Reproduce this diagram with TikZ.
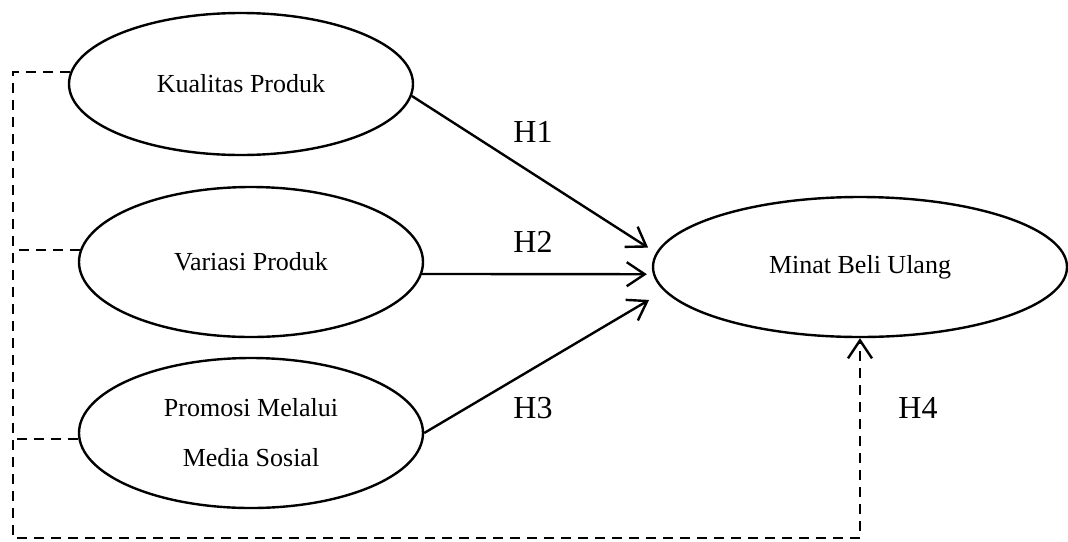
\documentclass[tikz,border=0pt]{standalone}
\usepackage{fontspec}
\setmainfont{Liberation Serif}
\usetikzlibrary{arrows.meta,shapes.geometric}
\begin{document}
\begin{tikzpicture}[x=0.5pt,y=-0.5pt,
  varbox/.style={draw,ellipse,line width=1.2pt,inner sep=0pt,font=\fontsize{13}{25}\selectfont,align=center},
  tip/.style={-{Straight Barb[length=9pt,width=12pt,line width=1.2pt]}},
  solidarrow/.style={line width=1.2pt,tip},
  dashline/.style={line width=1.3pt,dash pattern=on 5pt off 3.5pt},
  hlabel/.style={font=\fontsize{16}{19}\selectfont}]
\useasboundingbox (0,0) rectangle (1068,541);
\node[varbox,minimum width=172pt,minimum height=71pt] (e1) at (241,84) {Kualitas Produk};
\node[varbox,minimum width=172pt,minimum height=75pt] (e2) at (251,262) {Variasi Produk};
\node[varbox,minimum width=172pt,minimum height=75pt] (e3) at (251,433) {Promosi Melalui\\Media Sosial};
\node[varbox,minimum width=207pt,minimum height=70pt] (e4) at (860,267) {Minat Beli Ulang};
\coordinate (bl) at (13,538);
\draw[solidarrow,shorten >=4.7pt] (e1.-4) -- (e4.176.6);
\draw[solidarrow,shorten >=3pt] (e2.-4.3) -- (e4.182.2);
\draw[solidarrow,shorten >=8.7pt] (e3.-0.5) -- (e4.187.6);
\draw[dashline,tip] (e1.176) -| (bl) -| (e4.south);
\draw[dashline] (e2.176.3) -- (e2.176.3 -| bl);
\draw[dashline] (e3.182) -- (e3.182 -| bl);
\node[hlabel] (h1) at (533,132) {H1};
\node[hlabel] (h2) at (533,242) {H2};
\node[hlabel] (h3) at (533,408) {H3};
\node[hlabel] (h4) at (918,408) {H4};
\end{tikzpicture}
\end{document}
